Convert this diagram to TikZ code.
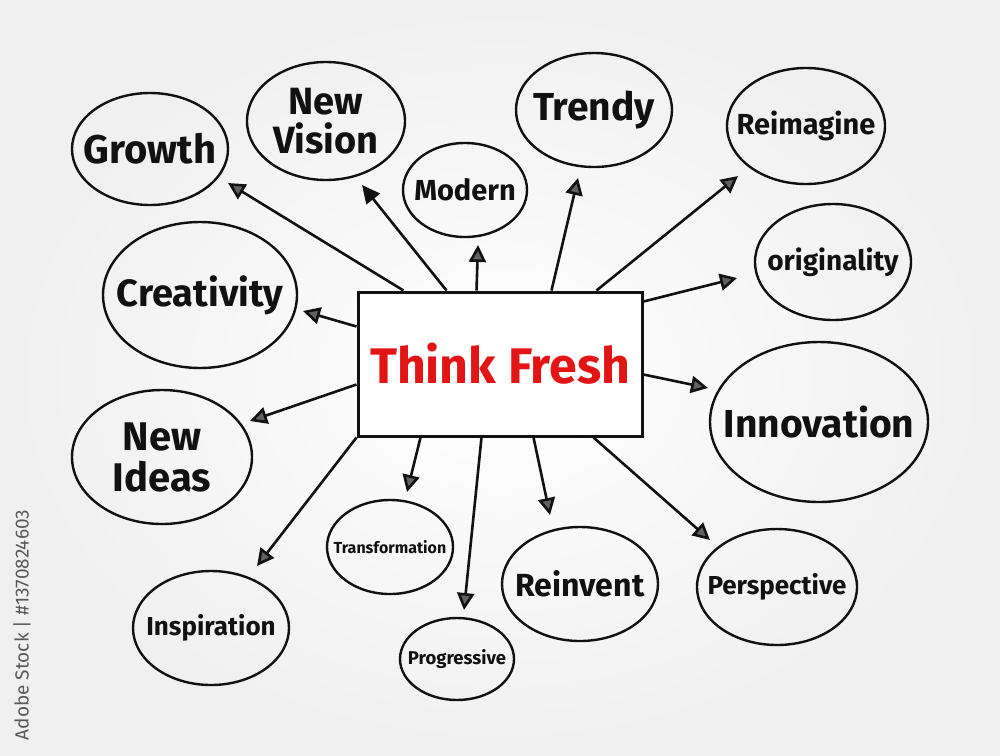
\documentclass[tikz,border=0pt]{standalone}
\usepackage{fontspec}
\setmainfont{Fira Sans}
\usetikzlibrary{shapes.geometric,arrows.meta,calc}
\definecolor{ink}{HTML}{111111}
\definecolor{redink}{HTML}{E31414}
\begin{document}
\begin{tikzpicture}[x=1pt,y={(0pt,-1pt)},
  bub/.style={draw=ink, line width=2.4pt, ellipse, inner sep=0pt, outer sep=0pt},
  lab/.style={text=ink, align=center, inner sep=0pt},
  arr/.style={draw=ink, line width=2.6pt, -{Triangle[length=17pt,width=17pt,fill=black!62]}},
  arrsolid/.style={draw=ink, line width=2.6pt, -{Triangle[length=18pt,width=17pt,fill=ink]}},
  fs/.style={font=\bfseries\fontsize{#1}{#1}\selectfont},
]
\useasboundingbox (0,0) rectangle (1000,755);
\shade[inner color=white, outer color=black!6] (0,0) rectangle (1000,755);

% central box
\node[draw=ink, line width=3pt, fill=white, minimum width=284, minimum height=144, inner sep=0pt,
      text=redink, fs=50] (c) at (500,364) {Think Fresh};

% bubbles (ellipse outline) and their labels
\node[bub, minimum width=156, minimum height=112] (growth) at (150,149) {};
\node[lab, fs=40] (growthT) at (growth.center) {Growth};
\node[bub, minimum width=158, minimum height=118] (vision) at (326,121) {};
\node[lab, font=\bfseries\fontsize{38}{39}\selectfont] (visionT) at (vision.center) {New\\Vision};
\node[bub, minimum width=124, minimum height=94] (modern) at (465,190) {};
\node[lab, fs=29] (modernT) at (modern.center) {Modern};
\node[bub, minimum width=156, minimum height=114] (trendy) at (594,110) {};
\node[lab, fs=39] (trendyT) at (trendy.center) {Trendy};
\node[bub, minimum width=158, minimum height=116] (reimagine) at (806,126) {};
\node[lab, fs=29] (reimagineT) at (reimagine.center) {Reimagine};
\node[bub, minimum width=156, minimum height=116] (orig) at (833,262) {};
\node[lab, fs=28] (origT) at (orig.center) {originality};
\node[bub, minimum width=194, minimum height=146] (creat) at (200,295) {};
\node[lab, fs=38] (creatT) at (creat.center) {Creativity};
\node[bub, minimum width=218, minimum height=160] (innov) at (819,422) {};
\node[lab, fs=39] (innovT) at (innov.center) {Innovation};
\node[bub, minimum width=180, minimum height=134] (ideas) at (162,457) {};
\node[lab, font=\bfseries\fontsize{40}{41}\selectfont] (ideasT) at (ideas.center) {New\\Ideas};
\node[bub, minimum width=126, minimum height=94] (transf) at (390,547) {};
\node[lab, fs=16] (transfT) at (transf.center) {Transformation};
\node[bub, minimum width=156, minimum height=114] (reinv) at (580,584) {};
\node[lab, fs=32] (reinvT) at (reinv.center) {Reinvent};
\node[bub, minimum width=160, minimum height=116] (persp) at (777,587) {};
\node[lab, fs=26] (perspT) at (persp.center) {Perspective};
\node[bub, minimum width=156, minimum height=114] (insp) at (211,628) {};
\node[lab, fs=26] (inspT) at (insp.center) {Inspiration};
\node[bub, minimum width=114, minimum height=82] (prog) at (457,659) {};
\node[lab, fs=18.5] (progT) at (prog.center) {Progressive};

% arrow tips
\coordinate (tGrowth) at (228,183);
\coordinate (tVision) at (362,185);
\coordinate (tModern) at (478,245);
\coordinate (tTrendy) at (578,178);
\coordinate (tReim) at (738,176);
\coordinate (tOrig) at (737,278);
\coordinate (tInnov) at (708,388);
\coordinate (tCreat) at (303,311);
\coordinate (tIdeas) at (250,421);
\coordinate (tInsp) at (257,566);
\coordinate (tTransf) at (407,492);
\coordinate (tProg) at (464,610);
\coordinate (tReinv) at (550,515);
\coordinate (tPersp) at (710,540);

% arrows
\draw[arr] ($(c.north west)+(47,0)$) -- (tGrowth);
\draw[arrsolid] ($(c.north west)+(90,0)$) -- (tVision);
\draw[arr] ($(c.north west)+(120,0)$) -- (tModern);
\draw[arr] ($(c.north west)+(195,0)$) -- (tTrendy);
\draw[arr] ($(c.north west)+(240,0)$) -- (tReim);
\draw[arr] ($(c.north east)+(0,11)$) -- (tOrig);
\draw[arr] ($(c.north east)+(0,84)$) -- (tInnov);
\draw[arr] ($(c.north west)+(0,36)$) -- (tCreat);
\draw[arr] ($(c.north west)+(0,94)$) -- (tIdeas);
\draw[arr] (c.south west) -- (tInsp);
\draw[arr] ($(c.south west)+(64,0)$) -- (tTransf);
\draw[arr] ($(c.south west)+(125,0)$) -- (tProg);
\draw[arr] ($(c.south west)+(177,0)$) -- (tReinv);
\draw[arr] ($(c.south west)+(237,0)$) -- (tPersp);

% watermark
\node[rotate=90, text=black!65, font=\fontsize{19}{19}\selectfont] (wm) at (22,625) {Adobe Stock | \#1370824603};
\end{tikzpicture}
\end{document}
